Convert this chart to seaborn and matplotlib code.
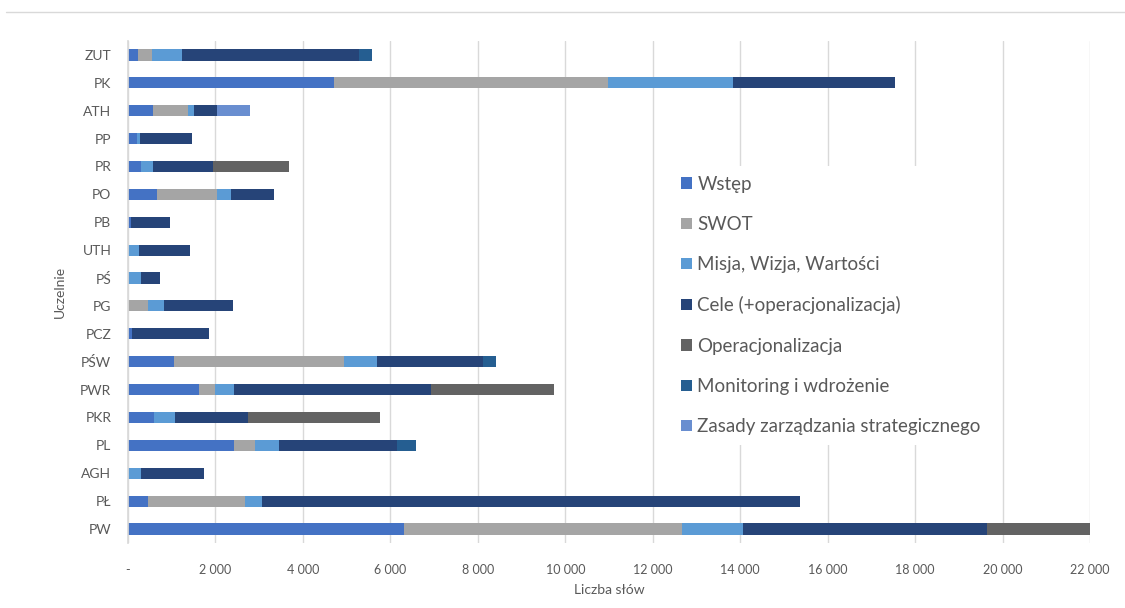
import matplotlib
matplotlib.use("Agg")
from matplotlib import pyplot as plt
from matplotlib.lines import Line2D
from matplotlib.ticker import FuncFormatter
import numpy as np
import pandas as pd
import seaborn as sns

# Uczelnie, top to bottom
uczelnie = ["ZUT", "PK", "ATH", "PP", "PR", "PO", "PB", "UTH", "PŚ", "PG",
            "PCZ", "PŚW", "PWR", "PKR", "PL", "AGH", "PŁ", "PW"]

wstep = [235, 4711, 579, 213, 297, 663, 78, 0, 0, 0,
         100, 1052, 1624, 595, 2416, 0, 450, 6318]
swot = [320, 6272, 786, 0, 0, 1379, 0, 0, 0, 465,
        0, 3895, 358, 0, 488, 0, 2227, 6359]
misja = [672, 2860, 152, 60, 282, 313, 0, 252, 290, 352,
         0, 740, 442, 473, 556, 305, 396, 1384]
cele = [4061, 3697, 526, 1197, 1358, 977, 876, 1159, 435, 1593,
        1745, 2431, 4505, 1676, 2698, 1441, 12293, 5575]
operacjonalizacja = [0, 0, 0, 0, 1738, 0, 0, 0, 0, 0,
                     0, 0, 2813, 3019, 0, 0, 0, 2364]
monitoring = [290, 0, 0, 0, 0, 0, 0, 0, 0, 0,
              0, 286, 0, 0, 428, 0, 0, 0]
zasady = [0, 0, 755, 0, 0, 0, 0, 0, 0, 0,
          0, 0, 0, 0, 0, 0, 0, 0]

series_names = ["Wstęp", "SWOT", "Misja, Wizja, Wartości", "Cele (+operacjonalizacja)",
                "Operacjonalizacja", "Monitoring i wdrożenie", "Zasady zarządzania strategicznego"]
series_vals = [wstep, swot, misja, cele, operacjonalizacja, monitoring, zasady]
colors = ["#4472C4", "#A5A5A5", "#5B9BD5", "#264478", "#636363", "#255E91", "#698ED0"]

sns.set_theme(style="white")
plt.rcParams["font.family"] = ["Lato", "DejaVu Sans"]

fig = plt.figure(figsize=(11.25, 6.08), dpi=100)
ax = fig.add_axes([0.1138, 0.107, 0.8551, 0.8256])

# Cumulative sums, drawn from the outermost layer inward
d = pd.DataFrame(dict(zip(series_names, series_vals)), index=uczelnie)
cum = d.cumsum(axis=1)
for name, col in reversed(list(zip(series_names, colors))):
    sns.barplot(x=cum[name].values, y=uczelnie, color=col, orient="h",
                width=0.4, ax=ax, label=name, saturation=1, linewidth=0)

ax.set_xlim(0, 22000)
ax.set_xticks(np.arange(0, 22001, 2000))
ax.xaxis.set_major_formatter(FuncFormatter(
    lambda v, p: "-" if v == 0 else f"{int(v):,}".replace(",", " ")))
ax.grid(axis="x", color="#D9D9D9", linewidth=1)
ax.set_axisbelow(True)
for s in ["top", "right", "bottom"]:
    ax.spines[s].set_visible(False)
ax.spines["left"].set_color("#D9D9D9")
ax.tick_params(axis="x", labelsize=9, colors="#595959", pad=15, length=0)
ax.tick_params(axis="y", labelsize=10, colors="#595959", pad=12, length=0)

ax.set_xlabel("Liczba słów", fontsize=10, color="#595959", labelpad=6)
ax.set_ylabel("Uczelnie", fontsize=10, color="#595959", labelpad=10)

# Legend in original order
handles, labels = ax.get_legend_handles_labels()
lookup = dict(zip(labels, handles))
leg = ax.legend([lookup[n] for n in series_names], series_names,
                loc="upper left", bbox_to_anchor=(0.589, 0.742),
                bbox_transform=fig.transFigure, fontsize=13.5,
                frameon=True, facecolor="white", edgecolor="none", framealpha=1,
                handlelength=0.55, handleheight=0.55, handletextpad=0.3,
                labelspacing=1.24, borderpad=0.5)
for t in leg.get_texts():
    t.set_color("#595959")

# thin separator line at the top
fig.add_artist(Line2D([0.005, 1.0], [0.98, 0.98], color="#D9D9D9", linewidth=1))

plt.savefig("out.png", dpi=100)
